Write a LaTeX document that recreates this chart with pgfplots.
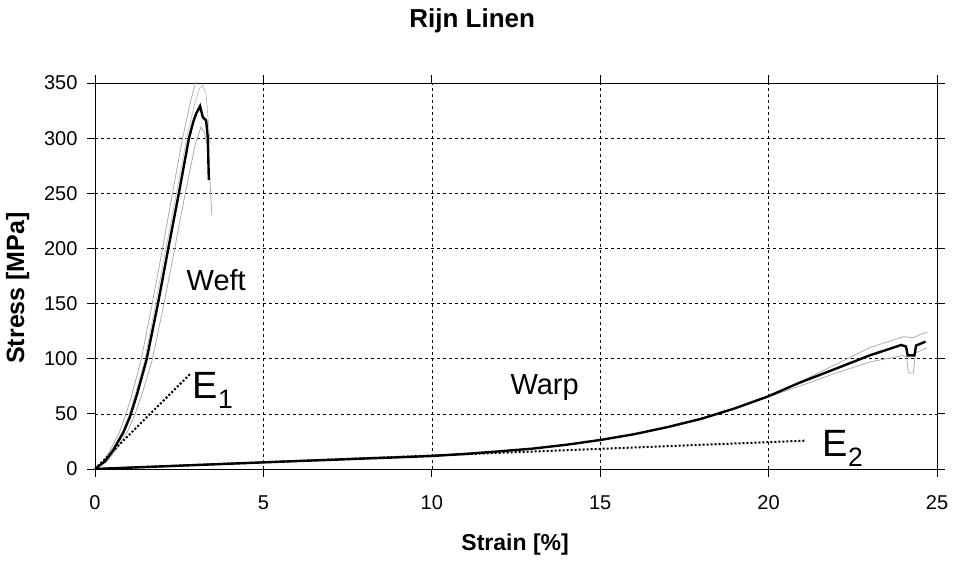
\documentclass[border=0pt]{standalone}
\usepackage{fontspec}
\setmainfont{Liberation Sans}
\setsansfont{Liberation Sans}
\usepackage{pgfplots}
\pgfplotsset{compat=1.18}
\begin{document}
\begin{tikzpicture}[x=1pt,y=1pt]
\useasboundingbox (0,0) rectangle (954,562);
\begin{axis}[
    at={(95pt,93pt)}, anchor=south west,
    scale only axis,
    width=842pt, height=386pt,
    xmin=0, xmax=25, ymin=0, ymax=350,
    xtick={0,5,...,25}, ytick={0,50,...,350},
    tick align=outside, major tick length=8pt,
    tick style={black, line width=0.8pt},
    axis line style={line width=0.9pt},
    grid=major,
    grid style={black, dashed, line width=0.6pt, dash pattern=on 3pt off 3pt},
    /pgf/number format/assume math mode=true,
    tick label style={font=\fontsize{20}{22}\selectfont},
    xticklabel style={yshift=-15pt},
    yticklabel style={xshift=-6pt},
    xlabel={\textbf{Strain [\%]}},
    ylabel={\textbf{Stress [MPa]}},
    xlabel style={font=\fontsize{23}{25}\selectfont, at={(axis description cs:0.499,-0.197)}, anchor=center},
    ylabel style={font=\fontsize{25}{27}\selectfont, at={(axis description cs:-0.092,0.469)}, anchor=center},
    title={\textbf{Rijn Linen}},
    title style={font=\fontsize{26}{28}\selectfont, at={(axis description cs:0.448,1.145)}, anchor=center},
    clip=true,
]
% Weft, grey replicates
\addplot[gray!65, line width=0.8pt] coordinates {
(0,0)(0.25,7)(0.45,17)(0.72,33)(0.9,48)(1.1,68)(1.37,99)(1.7,150)(2.0,199)(2.3,250)(2.6,300)(2.85,335)(3.0,352)(3.1,358)
};
\addplot[gray!65, line width=0.8pt] coordinates {
(0,0)(0.35,7)(0.62,17)(0.95,33)(1.17,48)(1.4,68)(1.7,99)(2.05,150)(2.36,199)(2.68,250)(2.98,295)(3.15,310)(3.25,305)(3.35,290)(3.4,270)(3.45,240)(3.47,230)
};
\addplot[gray!50, line width=0.7pt] coordinates {
(0,0)(0.28,7)(0.5,17)(0.8,33)(1.0,48)(1.2,68)(1.48,99)(1.8,150)(2.1,199)(2.42,250)(2.72,300)(2.95,330)(3.1,345)(3.2,348)(3.3,340)(3.35,320)(3.42,295)
};
% Weft, mean
\addplot[black, line width=2.4pt] coordinates {
(0,0)(0.3,7)(0.54,17)(0.84,33)(1.04,47.5)(1.25,68)(1.53,99)(1.87,150)(2.17,199)(2.49,250)(2.79,300)(2.92,315)(3.0,322)(3.12,329)(3.2,319)(3.3,316)(3.35,300)(3.38,262)
};
% Warp, grey replicates
\addplot[gray!65, line width=0.8pt] coordinates {
(0,0)(1,1.2)(2,2.4)(3,3.6)(4,4.8)(5,6)(6,7.2)(7,8.3)(8,9.5)(9,10.6)(10,11.8)(11,13.7)(12,16)(13,18.5)(14,22)(15,26.3)(16,31.5)(17,38)(18,45.5)(19,55)(20,66)(21,80)(22,95)(23,110)(23.6,116)(24,120)(24.3,119)(24.5,122)(24.7,124)
};
\addplot[gray!65, line width=0.8pt] coordinates {
(0,0)(1,1.2)(2,2.4)(3,3.6)(4,4.8)(5,6)(6,7.2)(7,8.3)(8,9.5)(9,10.6)(10,11.8)(11,13.7)(12,16)(13,18.5)(14,22)(15,26.3)(16,31.5)(17,38)(18,45.5)(19,55)(20,65.5)(21,76)(22,87)(23,97)(23.5,100)(24.0,103)(24.1,101)(24.15,87)(24.3,87)(24.35,105)(24.7,110)
};
% Warp, mean
\addplot[black, line width=2.4pt] coordinates {
(0,0)(1,1.2)(2,2.4)(3,3.6)(4,4.8)(5,6)(6,7.2)(7,8.3)(8,9.5)(9,10.6)(10,11.8)(11,13.7)(12,16)(13,18.5)(14,22)(15,26.3)(16,31.5)(17,38)(18,45.5)(19,55)(20,66)(20.9,78)(22,91)(23,103)(23.3,106)(23.94,112.5)(24.08,111)(24.13,103)(24.33,103)(24.38,112)(24.66,115.5)
};
% moduli
\addplot[black, line width=2pt, dotted] coordinates {(0,0)(2.82,86)};
\addplot[black, line width=2pt, dotted] coordinates {(0,0)(21.1,25.7)};
\node[font=\fontsize{29}{31}\selectfont] at (axis cs:3.6,171) {Weft};
\node[font=\fontsize{29}{31}\selectfont] at (axis cs:13.35,74) {Warp};
\node[font=\fontsize{38}{40}\selectfont, anchor=west, inner sep=0pt] at (axis cs:2.9,71) {E$_{\mathsf{1}}$};
\node[font=\fontsize{38}{40}\selectfont, anchor=west, inner sep=0pt] at (axis cs:21.6,19) {E$_{\mathsf{2}}$};
\end{axis}
\end{tikzpicture}
\end{document}
